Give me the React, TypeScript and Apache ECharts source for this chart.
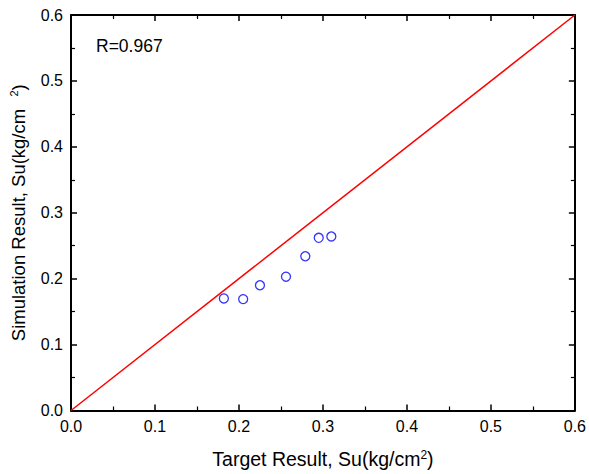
import React, { useEffect, useRef } from "react";
import * as echarts from "echarts";

// Measured undrained shear strength vs. simulated values (kg/cm²)
const targetSu = [0.182, 0.205, 0.225, 0.256, 0.279, 0.295, 0.31];
const simulatedSu = [0.17, 0.169, 0.19, 0.203, 0.234, 0.262, 0.264];
// 1:1 reference line
const lineOfEquality = [
  [0, 0],
  [0.6, 0.6],
];
const correlationLabel = "R=0.967";
const axisMin = 0;
const axisMax = 0.6;
const axisStep = 0.1;

const FONT = "'Liberation Sans', Arial, sans-serif";

export default function App() {
  const ref = useRef<HTMLDivElement>(null);

  useEffect(() => {
    if (!ref.current) return;
    const chart = echarts.init(ref.current, null, { renderer: "svg" });

    const axisLine = { show: true, onZero: false, lineStyle: { color: "#000", width: 2 } };
    const axisTick = { show: true, inside: true, length: 6, lineStyle: { color: "#000", width: 1.5 } };
    const minorTick = { show: true, splitNumber: 2, length: 4, lineStyle: { color: "#000", width: 1.2 } };
    const label = {
      show: true,
      margin: 8,
      color: "#000",
      fontFamily: FONT,
      fontSize: 16,
      formatter: (v: number) => v.toFixed(1),
    };
    const base = {
      type: "value" as const,
      min: axisMin,
      max: axisMax,
      interval: axisStep,
      splitLine: { show: false },
      axisLine,
      axisTick,
      minorTick,
    };

    chart.setOption({
      animation: false,
      backgroundColor: "#fff",
      grid: { left: 69, right: 11, top: 15, bottom: 60, containLabel: false },
      xAxis: [
        {
          ...base,
          position: "bottom",
          axisLabel: label,
          name: "{a|Target Result, Su(kg/cm}{s|2}{a|)}",
          nameLocation: "middle",
          nameGap: 38,
          nameTextStyle: {
            rich: {
              a: { fontFamily: FONT, fontSize: 19.5, color: "#000", lineHeight: 21 },
              s: { fontFamily: FONT, fontSize: 12, color: "#000", verticalAlign: "top", lineHeight: 21 },
            },
          },
        },
        { ...base, position: "top", axisLabel: { show: false } },
      ],
      yAxis: [
        {
          ...base,
          position: "left",
          axisLabel: label,
          name: "{a|Simulation Result, Su(kg/cm}{g|    }{s|2}{a|)}",
          nameLocation: "middle",
          nameGap: 43,
          nameTextStyle: {
            rich: {
              a: { fontFamily: FONT, fontSize: 18.5, color: "#000", lineHeight: 20 },
              g: { fontFamily: FONT, fontSize: 11, lineHeight: 20 },
              s: { fontFamily: FONT, fontSize: 11, color: "#000", verticalAlign: "top", lineHeight: 20 },
            },
          },
        },
        { ...base, position: "right", axisLabel: { show: false } },
      ],
      graphic: [
        {
          type: "text",
          left: 96,
          top: 37,
          style: { text: correlationLabel, fontFamily: FONT, fontSize: 17.5, fill: "#000" },
        },
      ],
      series: [
        {
          type: "line",
          data: lineOfEquality,
          symbol: "none",
          lineStyle: { color: "#ff0000", width: 1.5 },
          silent: true,
          z: 2,
        },
        {
          type: "scatter",
          data: targetSu.map((x, i) => [x, simulatedSu[i]]),
          symbol: "circle",
          symbolSize: 9,
          itemStyle: { color: "rgba(255,255,255,0)", borderColor: "#0000ff", borderWidth: 1.3 },
          z: 3,
        },
      ],
    });

    return () => chart.dispose();
  }, []);

  return (
    <div
      ref={ref}
      style={{ position: "fixed", left: 0, top: 0, width: 589, height: 474, background: "#fff" }}
    />
  );
}
